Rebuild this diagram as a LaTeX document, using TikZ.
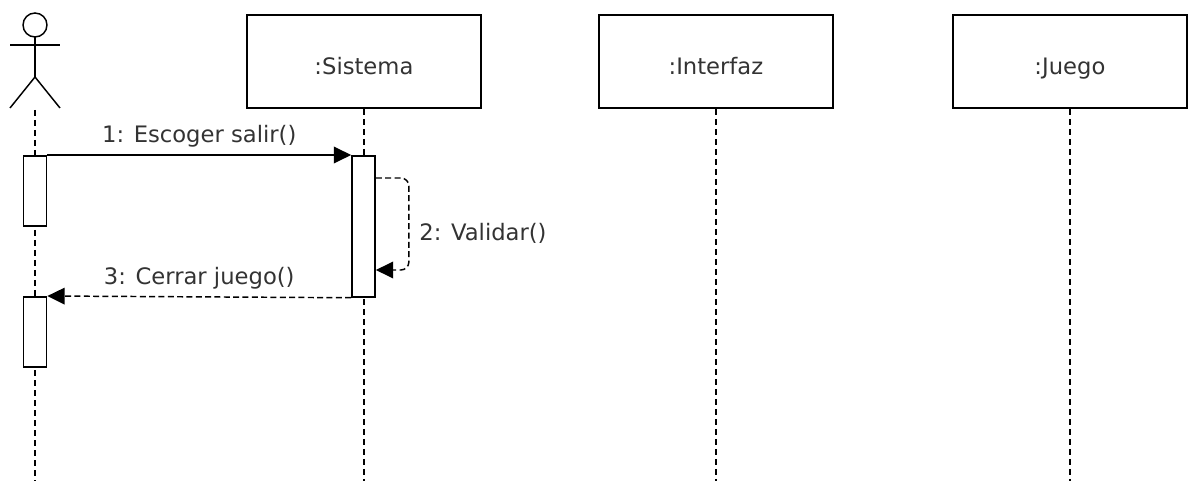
\documentclass[tikz,border=0pt]{standalone}
\usepackage{fontspec}
\setmainfont{DejaVu Sans}
\usetikzlibrary{arrows.meta,positioning,calc}
\begin{document}
\begin{tikzpicture}[x=0.75pt,y=-0.75pt,
            font=\fontsize{17pt}{20pt}\selectfont,
            every node/.style={text=black!80},
            obj/.style={rectangle, draw, line width=1.4pt, minimum width=175.5pt,
                minimum height=69.75pt, anchor=north west, text height=22pt, text depth=2pt},
            actbox/.style={rectangle, draw, fill=white, line width=1.3pt,
                minimum width=17.25pt, anchor=north, inner sep=0pt},
            life/.style={line width=0.9pt, dash pattern=on 4.5pt off 3pt},
            msg/.style={line width=1.1pt, -{Triangle[length=13pt,width=12.5pt]}},
            reply/.style={msg, dash pattern=on 4.5pt off 2.5pt}]

            \useasboundingbox (0,0) rectangle (1190,481);

            % actor
            \draw[line width=1.1pt] (35,25) circle (9pt);
            \draw[line width=1.1pt] (10,45) -- (60,45);
            \draw[line width=1.1pt] (35,37) -- (35,77) coordinate (hip);
            \draw[line width=1.1pt] (10,108) -- (hip) -- (60,108);
            \coordinate (usr) at (35,110);

            % objects
            \node [obj] (sis) at (246,14) {:Sistema};
            \node [obj] (inf) at (598,14) {:Interfaz};
            \node [obj] (jue) at (952,14) {:Juego};

            % lifelines
            \coordinate (usrEnd) at (35,481);
            \draw[life] (usr) -- (usrEnd);
            \foreach \o in {sis,inf,jue}
                \draw[life] (\o.south) -- (\o.south |- usrEnd);

            % activations
            \node [actbox,minimum height=52.5pt] (act1) at (35,155) {};
            \node [actbox,minimum height=52.5pt] (act2) at (35,296) {};
            \node [actbox,minimum height=105.75pt] (actS) at (363.5,155) {};

            % messages
            \draw[msg] (act1.north east) -- node[above=2pt] {1: Escoger salir()} (actS.north west);
            \coordinate (v0) at ($(actS.north east)+(0,23)$);
            \coordinate (v1) at ($(actS.north east)+(0,115)$);
            \draw[reply,rounded corners=6pt] (v0) -- ++(33,0) -- node[right=4pt,pos=0.6] {2: Validar()} ++(0,92) -- (v1);
            \draw[reply] (actS.south west) -- node[above=2pt] {3: Cerrar juego()} (act2.north east);
        \end{tikzpicture}
\end{document}
